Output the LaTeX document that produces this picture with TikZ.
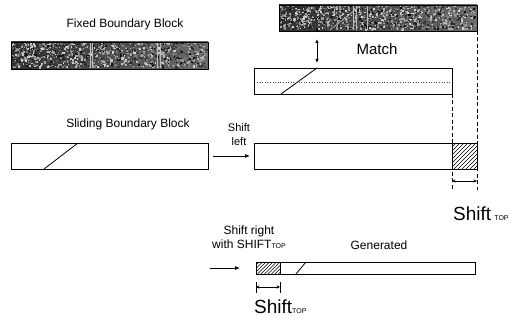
\documentclass[tikz,border=0pt]{standalone}
\usepackage{fontspec}
\setmainfont{Liberation Sans}
\usetikzlibrary{arrows.meta}
\newcommand\noiseblk[5]{% x y w h seed
  \shade[left color=black!82, right color=black!58] (#1,#2) rectangle ++(#3,#4);
  \pgfmathsetseed{#5}
  \foreach \i in {1,...,1300}{
    \pgfmathsetmacro\rx{rnd*(#3-2.5)}
    \pgfmathsetmacro\ry{rnd*(#4-2.5)}
    \pgfmathsetmacro\sz{rnd*1.5+0.9}
    \pgfmathtruncatemacro\g{rnd*80+5}
    \fill[white!\g!black] (#1+\rx,#2+\ry) rectangle ++(\sz,\sz);
  }
}
\begin{document}
\begin{tikzpicture}[x=1pt,y=-1pt,
  lbl/.style={font=\fontsize{12}{14}\selectfont, inner sep=0pt},
  blk/.style={draw, line width=0.9pt, anchor=north west, inner sep=0pt, minimum height=26pt, outer sep=0pt},
  arr/.style={-{Latex[length=5pt,width=4pt]}, line width=0.9pt},
  dimarr/.style={{Stealth[length=3.5pt,width=3.2pt]}-{Stealth[length=3.5pt,width=3.2pt]}, line width=0.7pt},
  dsh/.style={dash pattern=on 4pt off 2.5pt, line width=0.7pt},
  hatchln/.style={line width=0.5pt}
]
\useasboundingbox[fill=white] (0,0) rectangle (522,320);

% noisy blocks
\noiseblk{11}{42}{197}{27}{11}
\foreach \xx in {90,92,157,160}{\draw[white!75!black, line width=0.6pt] (\xx,43) -- (\xx,68);}
\noiseblk{279}{5}{198}{26}{23}
\foreach \xx in {353,356,367}{\draw[white!75!black, line width=0.6pt] (\xx,6) -- (\xx,30);}
\draw[white!70!black, line width=0.8pt] (330,30) -- (360,6);

% blocks
\node[blk, minimum width=197pt, minimum height=27pt] (fixed) at (11,42) {};
\node[blk, minimum width=198pt] (top) at (279,5) {};
\node[blk, minimum width=198pt] (mid) at (254,68) {};
\node[blk, minimum width=197pt] (slide) at (11,143) {};
\node[blk, minimum width=198pt] (shifted) at (254,143) {};
\node[blk, minimum width=25pt] (hatchA) at (452,143) {};
\node[blk, minimum width=219pt, minimum height=12pt] (gen) at (256,262) {};
\node[blk, minimum width=24pt, minimum height=12pt] (hatchB) at (256,262) {};

% hatching
\begin{scope}
\clip (hatchA.north west) rectangle (hatchA.south east);
\foreach \k in {-30,-26,...,30}{\draw[hatchln] (452+\k,169) -- ++(26,-26);}
\end{scope}
\begin{scope}
\clip (hatchB.north west) rectangle (hatchB.south east);
\foreach \k in {-16,-12.5,...,30}{\draw[hatchln] (256+\k,274) -- ++(12,-12);}
\end{scope}

% diagonals and dotted line
\draw[line width=0.8pt] (44,169) -- (78,143);
\draw[line width=0.8pt] (281,94) -- (317,68);
\draw[line width=0.8pt] (296,274) -- (306,262);
\draw[dotted, line width=0.6pt, black!70] (257,82) -- (450,82);

% dashed guide lines
\coordinate (dL) at (452,190);
\coordinate (dR) at (477,190);
\draw[dsh] (mid.south east) -- (dL);
\draw[dsh] (top.south east) -- (dR);
\coordinate (dimL) at (452,181);
\coordinate (dimR) at (477,181);
\draw[dimarr] (dimL) -- (dimR);

% bottom dimension
\coordinate (tL1) at (256,282); \coordinate (tL2) at (256,293);
\coordinate (tR1) at (280,282); \coordinate (tR2) at (280,293);
\draw[line width=0.7pt] (tL1) -- (tL2);
\draw[line width=0.7pt] (tR1) -- (tR2);
\coordinate (bdL) at (256,287);
\coordinate (bdR) at (280,287);
\draw[dimarr] (bdL) -- (bdR);

% match arrow
\coordinate (m1) at (317,39);
\coordinate (m2) at (317,63);
\draw[{Latex[length=4pt,width=3.5pt]}-{Latex[length=4pt,width=3.5pt]}, line width=0.8pt] (m1) -- (m2);

% shift arrows
\draw[arr, shorten <=5pt, shorten >=4pt] (slide.east) -- (shifted.west);
\coordinate (genin) at (210,268);
\draw[arr, shorten >=16pt] (genin) -- (gen.west);

% labels
\node[lbl] (tFixed) at (125,24) {Fixed Boundary Block};
\node[lbl] (tSlide) at (128,124) {Sliding Boundary Block};
\node[lbl, font=\fontsize{11}{14}\selectfont, align=center] (tLeft) at (239,135) {Shift\\left};
\node[lbl, font=\fontsize{15}{17}\selectfont] (tMatch) at (377,49) {Match};
\node[lbl, anchor=base west] (tShiftA) at (453,221) {\fontsize{19}{22}\selectfont Shift\,{\fontsize{7}{8}\selectfont TOP}};
\node[lbl, anchor=base west] (tShiftB) at (254,313) {\fontsize{19}{22}\selectfont Shift{\fontsize{7}{8}\selectfont TOP}};
\node[lbl, align=center] (tRight) at (249,237) {Shift right\\with SHIFT{\fontsize{7}{8}\selectfont TOP}};
\node[lbl] (tGen) at (379,245) {Generated};
\end{tikzpicture}
\end{document}
